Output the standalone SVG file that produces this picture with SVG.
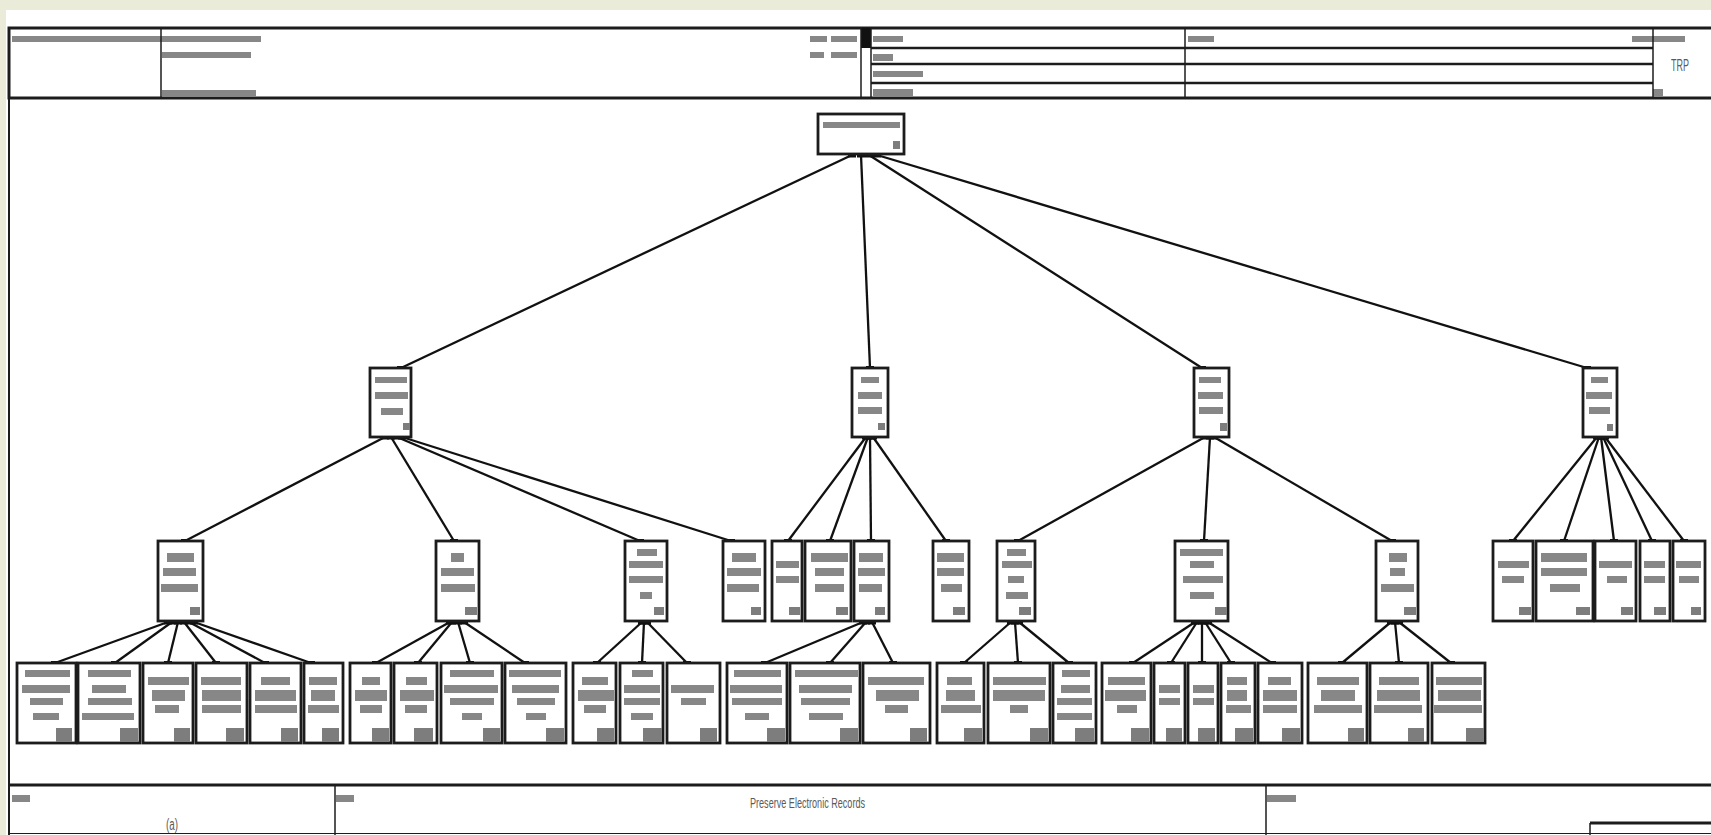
<svg xmlns="http://www.w3.org/2000/svg" width="1711" height="835" viewBox="0 0 1711 835">
<style>
.n{fill:#fff;stroke:#1c1c1c;stroke-width:2.8}
.b{fill:#878787}
.s{fill:#7d7d7d}
.hl{stroke:#1c1c1c;fill:none}
.c line{stroke:#111;stroke-width:2.3;marker-start:url(#blob);marker-end:url(#blob)}
.t{font-family:"Liberation Sans",Arial,sans-serif;fill:#5a5a5a}
</style>
<defs>
<marker id="blob" markerUnits="userSpaceOnUse" markerWidth="8" markerHeight="5" refX="4" refY="2.5" orient="0"><rect width="8" height="5" fill="#111"/></marker>
</defs>
<rect width="1711" height="835" fill="#ebebd9"/>
<rect x="6" y="10" width="1705" height="825" fill="#fff"/>
<g id="frame">
<line class="hl" x1="9" y1="28" x2="9" y2="835" stroke-width="2"/>
</g>
<g id="header">
<rect x="9" y="28" width="1710" height="70" fill="#fff" stroke="#1c1c1c" stroke-width="3"/>
<rect x="861" y="28" width="10" height="20" fill="#111"/>
<g class="b">
<rect x="12" y="36" width="249" height="6"/>
<rect x="162" y="52" width="89" height="6"/>
<rect x="162" y="90" width="94" height="7"/>
<rect x="810" y="36" width="17" height="6"/>
<rect x="831" y="36" width="26" height="6"/>
<rect x="810" y="52" width="14" height="6"/>
<rect x="831" y="52" width="26" height="6"/>
<rect x="873" y="36" width="30" height="6"/>
<rect x="873" y="54" width="20" height="7"/>
<rect x="873" y="71" width="50" height="6"/>
<rect x="873" y="89" width="40" height="8"/>
<rect x="1188" y="36" width="26" height="6"/>
<rect x="1632" y="36" width="53" height="6"/>
<rect x="1653" y="89" width="10" height="8"/>
</g>
<line class="hl" x1="161" y1="28" x2="161" y2="98" stroke-width="1.5"/>
<line class="hl" x1="861" y1="28" x2="861" y2="98" stroke-width="1.5"/>
<line class="hl" x1="871" y1="28" x2="871" y2="98" stroke-width="1.5"/>
<line class="hl" x1="1185" y1="28" x2="1185" y2="98" stroke-width="1.5"/>
<line class="hl" x1="1653" y1="28" x2="1653" y2="98" stroke-width="1.5"/>
<line class="hl" x1="871" y1="48" x2="1653" y2="48" stroke-width="2.5"/>
<line class="hl" x1="871" y1="64" x2="1653" y2="64" stroke-width="2.5"/>
<line class="hl" x1="871" y1="83" x2="1653" y2="83" stroke-width="2.5"/>
<text class="t" x="1671" y="71" font-size="16" textLength="18" lengthAdjust="spacingAndGlyphs">TRP</text>
</g>
<g id="footer">
<line class="hl" x1="9" y1="785" x2="1711" y2="785" stroke-width="3"/>
<line class="hl" x1="9" y1="833.5" x2="1711" y2="833.5" stroke-width="1" stroke="#999"/>
<line class="hl" x1="335" y1="785" x2="335" y2="835" stroke-width="1.5"/>
<line class="hl" x1="1266" y1="785" x2="1266" y2="835" stroke-width="1.5"/>
<line class="hl" x1="1590" y1="823" x2="1711" y2="823" stroke-width="3"/>
<line class="hl" x1="1590" y1="823" x2="1590" y2="835" stroke-width="1.5"/>
<g class="b">
<rect x="12" y="795" width="18" height="7"/>
<rect x="336" y="795" width="18" height="7"/>
<rect x="1267" y="795" width="29" height="7"/>
</g>
<text class="t" x="750" y="808" font-size="14" textLength="115" lengthAdjust="spacingAndGlyphs">Preserve Electronic Records</text>
<text class="t" x="166" y="830" font-size="16" textLength="12" lengthAdjust="spacingAndGlyphs">(a)</text>
</g>
<g id="connectors" class="c">
<line x1="852" y1="155" x2="401" y2="368"/>
<line x1="861" y1="155" x2="870" y2="368"/>
<line x1="869" y1="155" x2="1202" y2="368"/>
<line x1="877" y1="155" x2="1587" y2="368"/>
<line x1="385" y1="437" x2="185" y2="541"/>
<line x1="391" y1="437" x2="454" y2="541"/>
<line x1="397" y1="437" x2="640" y2="541"/>
<line x1="402" y1="437" x2="731" y2="541"/>
<line x1="866" y1="437" x2="788" y2="541"/>
<line x1="868" y1="437" x2="830" y2="541"/>
<line x1="870" y1="437" x2="871" y2="541"/>
<line x1="873" y1="437" x2="946" y2="541"/>
<line x1="1205" y1="437" x2="1018" y2="541"/>
<line x1="1210" y1="437" x2="1204" y2="541"/>
<line x1="1214" y1="437" x2="1392" y2="541"/>
<line x1="1597" y1="437" x2="1513" y2="541"/>
<line x1="1599" y1="437" x2="1564" y2="541"/>
<line x1="1601" y1="437" x2="1614" y2="541"/>
<line x1="1603" y1="437" x2="1652" y2="541"/>
<line x1="1605" y1="437" x2="1684" y2="541"/>
<line x1="168" y1="622" x2="55" y2="663"/>
<line x1="172" y1="622" x2="115" y2="663"/>
<line x1="178" y1="622" x2="168" y2="663"/>
<line x1="184" y1="622" x2="216" y2="663"/>
<line x1="189" y1="622" x2="265" y2="663"/>
<line x1="194" y1="622" x2="311" y2="663"/>
<line x1="450" y1="622" x2="376" y2="663"/>
<line x1="452" y1="622" x2="418" y2="663"/>
<line x1="458" y1="622" x2="470" y2="663"/>
<line x1="464" y1="622" x2="525" y2="663"/>
<line x1="642" y1="622" x2="597" y2="663"/>
<line x1="644" y1="622" x2="642" y2="663"/>
<line x1="647" y1="622" x2="687" y2="663"/>
<line x1="863" y1="622" x2="765" y2="663"/>
<line x1="866" y1="622" x2="830" y2="663"/>
<line x1="872" y1="622" x2="893" y2="663"/>
<line x1="1011" y1="622" x2="964" y2="663"/>
<line x1="1015" y1="622" x2="1018" y2="663"/>
<line x1="1019" y1="622" x2="1069" y2="663"/>
<line x1="1195" y1="622" x2="1133" y2="663"/>
<line x1="1197" y1="622" x2="1171" y2="663"/>
<line x1="1202" y1="622" x2="1202" y2="663"/>
<line x1="1205" y1="622" x2="1231" y2="663"/>
<line x1="1208" y1="622" x2="1272" y2="663"/>
<line x1="1391" y1="622" x2="1342" y2="663"/>
<line x1="1395" y1="622" x2="1399" y2="663"/>
<line x1="1399" y1="622" x2="1451" y2="663"/>
</g>
<g id="root"><rect class="n" x="818" y="114" width="86" height="40"/><rect class="b" x="823" y="122" width="77" height="6"/><rect class="s" x="893" y="141" width="7" height="8"/></g>
<g id="l1a"><rect class="n" x="370" y="368" width="41" height="69"/><rect class="b" x="375" y="377" width="32" height="6"/><rect class="b" x="375" y="392" width="33" height="7"/><rect class="b" x="381" y="408" width="22" height="7"/><rect class="s" x="403" y="423" width="7" height="7"/></g>
<g id="l1b"><rect class="n" x="852" y="368" width="36" height="69"/><rect class="b" x="861" y="377" width="18" height="6"/><rect class="b" x="858" y="392" width="24" height="7"/><rect class="b" x="858" y="407" width="24" height="7"/><rect class="s" x="878" y="423" width="7" height="7"/></g>
<g id="l1c"><rect class="n" x="1194" y="368" width="35" height="69"/><rect class="b" x="1199" y="377" width="22" height="6"/><rect class="b" x="1198" y="392" width="25" height="7"/><rect class="b" x="1199" y="407" width="24" height="7"/><rect class="s" x="1220" y="423" width="7" height="8"/></g>
<g id="l1d"><rect class="n" x="1583" y="368" width="34" height="69"/><rect class="b" x="1591" y="377" width="17" height="6"/><rect class="b" x="1586" y="392" width="26" height="7"/><rect class="b" x="1589" y="407" width="21" height="7"/><rect class="s" x="1607" y="424" width="6" height="7"/></g>
<g id="l2n1"><rect class="n" x="158" y="541" width="45" height="80"/><rect class="b" x="167" y="553" width="27" height="9"/><rect class="b" x="163" y="568" width="33" height="8"/><rect class="b" x="161" y="584" width="37" height="8"/><rect class="s" x="190" y="607" width="10" height="8"/></g>
<g id="l2n2"><rect class="n" x="436" y="541" width="43" height="80"/><rect class="b" x="451" y="553" width="13" height="9"/><rect class="b" x="441" y="568" width="33" height="8"/><rect class="b" x="441" y="584" width="34" height="8"/><rect class="s" x="465" y="607" width="12" height="8"/></g>
<g id="l2n3"><rect class="n" x="625" y="541" width="42" height="80"/><rect class="b" x="637" y="549" width="20" height="7"/><rect class="b" x="629" y="561" width="34" height="7"/><rect class="b" x="629" y="576" width="34" height="7"/><rect class="b" x="640" y="592" width="12" height="7"/><rect class="s" x="654" y="607" width="10" height="8"/></g>
<g id="l2n4"><rect class="n" x="723" y="541" width="42" height="80"/><rect class="b" x="732" y="553" width="24" height="9"/><rect class="b" x="727" y="568" width="34" height="8"/><rect class="b" x="727" y="584" width="32" height="8"/><rect class="s" x="751" y="607" width="10" height="8"/></g>
<g id="l2n5"><rect class="n" x="772" y="541" width="30" height="80"/><rect class="b" x="776" y="561" width="23" height="7"/><rect class="b" x="776" y="576" width="23" height="7"/><rect class="s" x="789" y="607" width="11" height="8"/></g>
<g id="l2n6"><rect class="n" x="805" y="541" width="46" height="80"/><rect class="b" x="811" y="553" width="37" height="9"/><rect class="b" x="815" y="568" width="29" height="8"/><rect class="b" x="815" y="584" width="29" height="8"/><rect class="s" x="836" y="607" width="12" height="8"/></g>
<g id="l2n7"><rect class="n" x="854" y="541" width="35" height="80"/><rect class="b" x="859" y="553" width="24" height="9"/><rect class="b" x="858" y="568" width="27" height="8"/><rect class="b" x="859" y="584" width="23" height="8"/><rect class="s" x="875" y="607" width="10" height="8"/></g>
<g id="l2n8"><rect class="n" x="933" y="541" width="36" height="80"/><rect class="b" x="937" y="553" width="27" height="9"/><rect class="b" x="937" y="568" width="27" height="8"/><rect class="b" x="941" y="584" width="21" height="8"/><rect class="s" x="953" y="607" width="12" height="8"/></g>
<g id="l2n9"><rect class="n" x="997" y="541" width="38" height="80"/><rect class="b" x="1007" y="549" width="19" height="7"/><rect class="b" x="1002" y="561" width="30" height="7"/><rect class="b" x="1008" y="576" width="16" height="7"/><rect class="b" x="1006" y="592" width="22" height="7"/><rect class="s" x="1019" y="607" width="12" height="8"/></g>
<g id="l2n10"><rect class="n" x="1175" y="541" width="53" height="80"/><rect class="b" x="1180" y="549" width="43" height="7"/><rect class="b" x="1190" y="561" width="24" height="7"/><rect class="b" x="1183" y="576" width="40" height="7"/><rect class="b" x="1190" y="592" width="24" height="7"/><rect class="s" x="1215" y="607" width="12" height="8"/></g>
<g id="l2n11"><rect class="n" x="1376" y="541" width="42" height="80"/><rect class="b" x="1389" y="553" width="18" height="9"/><rect class="b" x="1390" y="568" width="15" height="8"/><rect class="b" x="1381" y="584" width="33" height="8"/><rect class="s" x="1404" y="607" width="12" height="8"/></g>
<g id="l2n12"><rect class="n" x="1493" y="541" width="40" height="80"/><rect class="b" x="1498" y="561" width="31" height="7"/><rect class="b" x="1502" y="576" width="22" height="7"/><rect class="s" x="1519" y="607" width="12" height="8"/></g>
<g id="l2n13"><rect class="n" x="1536" y="541" width="57" height="80"/><rect class="b" x="1541" y="553" width="46" height="9"/><rect class="b" x="1541" y="568" width="46" height="8"/><rect class="b" x="1550" y="584" width="30" height="8"/><rect class="s" x="1576" y="607" width="14" height="8"/></g>
<g id="l2n14"><rect class="n" x="1595" y="541" width="41" height="80"/><rect class="b" x="1599" y="561" width="33" height="7"/><rect class="b" x="1607" y="576" width="20" height="7"/><rect class="s" x="1621" y="607" width="12" height="8"/></g>
<g id="l2n15"><rect class="n" x="1640" y="541" width="30" height="80"/><rect class="b" x="1644" y="561" width="21" height="7"/><rect class="b" x="1644" y="576" width="21" height="7"/><rect class="s" x="1654" y="607" width="12" height="8"/></g>
<g id="l2n16"><rect class="n" x="1673" y="541" width="32" height="80"/><rect class="b" x="1676" y="561" width="25" height="7"/><rect class="b" x="1679" y="576" width="20" height="7"/><rect class="s" x="1691" y="607" width="10" height="8"/></g>
<g id="leaf1"><rect class="n" x="17" y="663" width="59" height="80"/><rect class="b" x="25" y="670" width="45" height="7"/><rect class="b" x="22" y="685" width="48" height="8"/><rect class="b" x="30" y="698" width="33" height="7"/><rect class="b" x="33" y="713" width="26" height="7"/><rect class="s" x="56" y="728" width="16" height="14"/></g>
<g id="leaf2"><rect class="n" x="78" y="663" width="62" height="80"/><rect class="b" x="88" y="670" width="43" height="7"/><rect class="b" x="92" y="685" width="34" height="8"/><rect class="b" x="88" y="698" width="44" height="7"/><rect class="b" x="82" y="713" width="52" height="7"/><rect class="s" x="120" y="728" width="18" height="14"/></g>
<g id="leaf3"><rect class="n" x="143" y="663" width="50" height="80"/><rect class="b" x="148" y="677" width="41" height="8"/><rect class="b" x="152" y="690" width="33" height="11"/><rect class="b" x="155" y="705" width="24" height="8"/><rect class="s" x="174" y="728" width="16" height="14"/></g>
<g id="leaf4"><rect class="n" x="196" y="663" width="51" height="80"/><rect class="b" x="201" y="677" width="40" height="8"/><rect class="b" x="202" y="690" width="39" height="11"/><rect class="b" x="202" y="705" width="39" height="8"/><rect class="s" x="226" y="728" width="18" height="14"/></g>
<g id="leaf5"><rect class="n" x="250" y="663" width="51" height="80"/><rect class="b" x="261" y="677" width="29" height="8"/><rect class="b" x="255" y="690" width="41" height="11"/><rect class="b" x="255" y="705" width="42" height="8"/><rect class="s" x="281" y="728" width="17" height="14"/></g>
<g id="leaf6"><rect class="n" x="304" y="663" width="39" height="80"/><rect class="b" x="309" y="677" width="28" height="8"/><rect class="b" x="311" y="690" width="24" height="11"/><rect class="b" x="308" y="705" width="31" height="8"/><rect class="s" x="322" y="728" width="17" height="14"/></g>
<g id="leaf7"><rect class="n" x="350" y="663" width="41" height="80"/><rect class="b" x="362" y="677" width="18" height="8"/><rect class="b" x="355" y="690" width="32" height="11"/><rect class="b" x="360" y="705" width="22" height="8"/><rect class="s" x="372" y="728" width="17" height="14"/></g>
<g id="leaf8"><rect class="n" x="394" y="663" width="43" height="80"/><rect class="b" x="406" y="677" width="21" height="8"/><rect class="b" x="400" y="690" width="34" height="11"/><rect class="b" x="405" y="705" width="22" height="8"/><rect class="s" x="414" y="728" width="19" height="14"/></g>
<g id="leaf9"><rect class="n" x="441" y="663" width="61" height="80"/><rect class="b" x="450" y="670" width="44" height="7"/><rect class="b" x="444" y="685" width="54" height="8"/><rect class="b" x="450" y="698" width="44" height="7"/><rect class="b" x="462" y="713" width="20" height="7"/><rect class="s" x="483" y="728" width="17" height="14"/></g>
<g id="leaf10"><rect class="n" x="505" y="663" width="61" height="80"/><rect class="b" x="509" y="670" width="52" height="7"/><rect class="b" x="512" y="685" width="47" height="8"/><rect class="b" x="517" y="698" width="38" height="7"/><rect class="b" x="526" y="713" width="20" height="7"/><rect class="s" x="546" y="728" width="18" height="14"/></g>
<g id="leaf11"><rect class="n" x="573" y="663" width="43" height="80"/><rect class="b" x="582" y="677" width="26" height="8"/><rect class="b" x="578" y="690" width="36" height="11"/><rect class="b" x="584" y="705" width="22" height="8"/><rect class="s" x="597" y="728" width="17" height="14"/></g>
<g id="leaf12"><rect class="n" x="620" y="663" width="43" height="80"/><rect class="b" x="632" y="670" width="21" height="7"/><rect class="b" x="624" y="685" width="36" height="8"/><rect class="b" x="624" y="698" width="36" height="7"/><rect class="b" x="631" y="713" width="22" height="7"/><rect class="s" x="643" y="728" width="19" height="14"/></g>
<g id="leaf13"><rect class="n" x="667" y="663" width="53" height="80"/><rect class="b" x="671" y="685" width="43" height="8"/><rect class="b" x="681" y="698" width="25" height="7"/><rect class="s" x="700" y="728" width="17" height="14"/></g>
<g id="leaf14"><rect class="n" x="727" y="663" width="60" height="80"/><rect class="b" x="734" y="670" width="47" height="7"/><rect class="b" x="730" y="685" width="52" height="8"/><rect class="b" x="732" y="698" width="50" height="7"/><rect class="b" x="745" y="713" width="24" height="7"/><rect class="s" x="767" y="728" width="18" height="14"/></g>
<g id="leaf15"><rect class="n" x="790" y="663" width="70" height="80"/><rect class="b" x="795" y="670" width="63" height="7"/><rect class="b" x="799" y="685" width="53" height="8"/><rect class="b" x="801" y="698" width="49" height="7"/><rect class="b" x="809" y="713" width="34" height="7"/><rect class="s" x="840" y="728" width="18" height="14"/></g>
<g id="leaf16"><rect class="n" x="863" y="663" width="67" height="80"/><rect class="b" x="868" y="677" width="56" height="8"/><rect class="b" x="876" y="690" width="43" height="11"/><rect class="b" x="885" y="705" width="23" height="8"/><rect class="s" x="910" y="728" width="17" height="14"/></g>
<g id="leaf17"><rect class="n" x="937" y="663" width="47" height="80"/><rect class="b" x="947" y="677" width="25" height="8"/><rect class="b" x="946" y="690" width="29" height="11"/><rect class="b" x="941" y="705" width="40" height="8"/><rect class="s" x="964" y="728" width="18" height="14"/></g>
<g id="leaf18"><rect class="n" x="988" y="663" width="62" height="80"/><rect class="b" x="993" y="677" width="53" height="8"/><rect class="b" x="993" y="690" width="52" height="11"/><rect class="b" x="1010" y="705" width="18" height="8"/><rect class="s" x="1030" y="728" width="18" height="14"/></g>
<g id="leaf19"><rect class="n" x="1053" y="663" width="43" height="80"/><rect class="b" x="1062" y="670" width="28" height="7"/><rect class="b" x="1061" y="685" width="29" height="8"/><rect class="b" x="1057" y="698" width="35" height="7"/><rect class="b" x="1057" y="713" width="35" height="7"/><rect class="s" x="1075" y="728" width="19" height="14"/></g>
<g id="leaf20"><rect class="n" x="1102" y="663" width="49" height="80"/><rect class="b" x="1108" y="677" width="37" height="8"/><rect class="b" x="1105" y="690" width="41" height="11"/><rect class="b" x="1117" y="705" width="20" height="8"/><rect class="s" x="1131" y="728" width="18" height="14"/></g>
<g id="leaf21"><rect class="n" x="1154" y="663" width="31" height="80"/><rect class="b" x="1159" y="685" width="21" height="8"/><rect class="b" x="1159" y="698" width="21" height="7"/><rect class="s" x="1166" y="728" width="16" height="14"/></g>
<g id="leaf22"><rect class="n" x="1188" y="663" width="30" height="80"/><rect class="b" x="1193" y="685" width="21" height="8"/><rect class="b" x="1193" y="698" width="21" height="7"/><rect class="s" x="1198" y="728" width="17" height="14"/></g>
<g id="leaf23"><rect class="n" x="1221" y="663" width="34" height="80"/><rect class="b" x="1227" y="677" width="20" height="8"/><rect class="b" x="1227" y="690" width="20" height="11"/><rect class="b" x="1226" y="705" width="25" height="8"/><rect class="s" x="1235" y="728" width="18" height="14"/></g>
<g id="leaf24"><rect class="n" x="1258" y="663" width="44" height="80"/><rect class="b" x="1268" y="677" width="23" height="8"/><rect class="b" x="1263" y="690" width="34" height="11"/><rect class="b" x="1263" y="705" width="34" height="8"/><rect class="s" x="1282" y="728" width="18" height="14"/></g>
<g id="leaf25"><rect class="n" x="1308" y="663" width="59" height="80"/><rect class="b" x="1317" y="677" width="42" height="8"/><rect class="b" x="1321" y="690" width="34" height="11"/><rect class="b" x="1314" y="705" width="48" height="8"/><rect class="s" x="1348" y="728" width="16" height="14"/></g>
<g id="leaf26"><rect class="n" x="1370" y="663" width="58" height="80"/><rect class="b" x="1379" y="677" width="40" height="8"/><rect class="b" x="1377" y="690" width="43" height="11"/><rect class="b" x="1374" y="705" width="48" height="8"/><rect class="s" x="1408" y="728" width="16" height="14"/></g>
<g id="leaf27"><rect class="n" x="1432" y="663" width="53" height="80"/><rect class="b" x="1436" y="677" width="46" height="8"/><rect class="b" x="1438" y="690" width="43" height="11"/><rect class="b" x="1434" y="705" width="48" height="8"/><rect class="s" x="1466" y="728" width="18" height="14"/></g>
</svg>
